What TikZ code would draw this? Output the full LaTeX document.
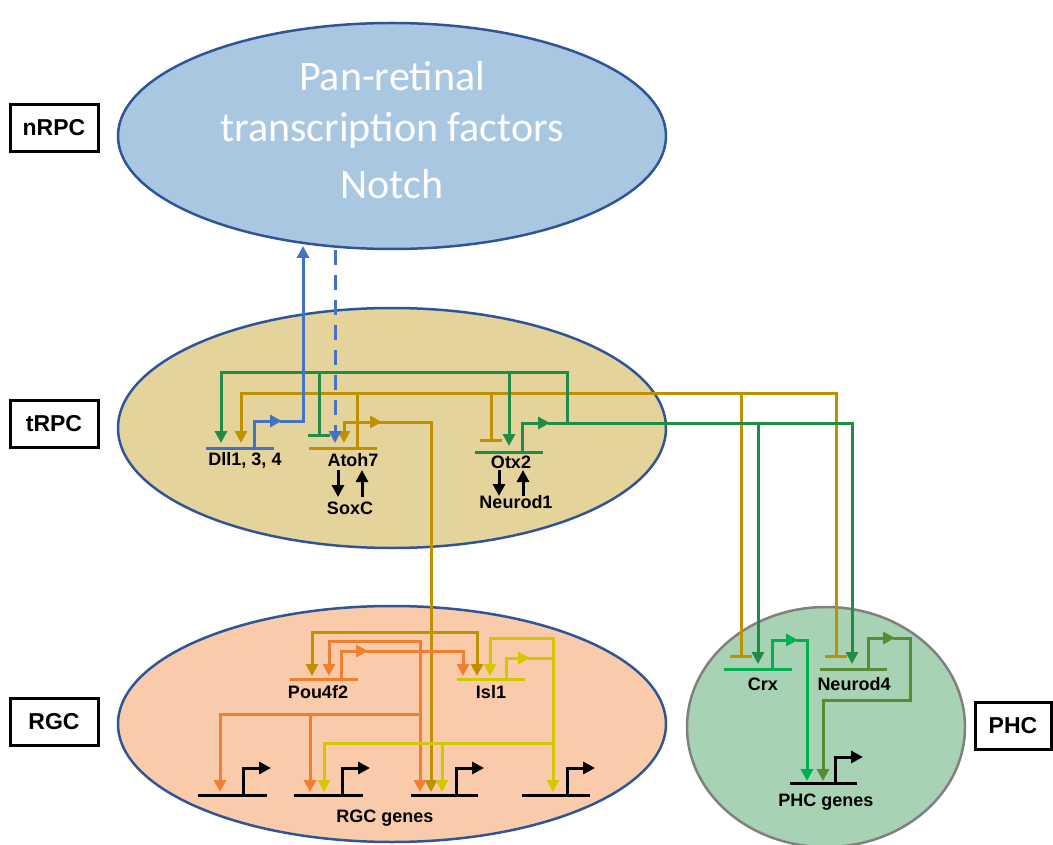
\documentclass[tikz,border=0pt]{standalone}
\usepackage{fontspec}
\setmainfont{Liberation Sans}
\newfontfamily\calfont{Carlito}
\usetikzlibrary{arrows.meta,shapes.geometric}
\definecolor{nfill}{RGB}{170,199,226}
\definecolor{tfill}{RGB}{229,211,156}
\definecolor{rfill}{RGB}{250,203,170}
\definecolor{pfill}{RGB}{168,210,180}
\definecolor{edgeblue}{RGB}{47,85,151}
\definecolor{pedge}{RGB}{128,128,128}
\definecolor{cblue}{RGB}{68,114,196}
\definecolor{cgreen}{RGB}{34,139,69}
\definecolor{cgold}{RGB}{191,144,0}
\definecolor{corange}{RGB}{240,128,48}
\definecolor{cyellow}{RGB}{210,200,0}
\definecolor{ccrx}{RGB}{0,176,80}
\definecolor{cnd4}{RGB}{90,138,52}
\begin{document}
\begin{tikzpicture}[x=1pt,y=-1pt,
  wire/.style={line width=3pt},
  arr/.style={wire,-{Triangle[width=12pt,length=12pt]}},
  tee/.style={wire,-{Bar[width=22pt]}},
  lab/.style={font=\fontsize{18}{20}\selectfont\bfseries,inner sep=0pt},
  box/.style={draw,line width=3pt,font=\fontsize{23}{25}\selectfont\bfseries,minimum width=88pt,minimum height=47pt,inner sep=0pt},
  cell/.style={ellipse,line width=2.5pt,inner sep=0pt},
  big/.style={text=white,font=\calfont\fontsize{42}{48}\selectfont,inner sep=0pt},
  bar/.style={line width=3pt}]
\useasboundingbox (0,0) rectangle (1053,845);
% cells
\node[cell,draw=edgeblue,fill=nfill,minimum width=548pt,minimum height=226pt] (nrpc) at (392,136) {};
\node[cell,draw=edgeblue,fill=tfill,minimum width=548pt,minimum height=240pt] (trpc) at (392,428) {};
\node[cell,draw=edgeblue,fill=rfill,minimum width=548pt,minimum height=236pt] (rgc) at (392,724) {};
\node[cell,draw=pedge,fill=pfill,minimum width=278pt,minimum height=240pt] (phc) at (826,727) {};
\node[big] (t1) at (392,76) {Pan-retinal};
\node[big] (t2) at (392,130) {transcription factors};
\node[big] (t3) at (392,184) {Notch};
% boxes
\node[box] (bn) at (54,128) {nRPC};
\node[box] (bt) at (54,424) {tRPC};
\node[box] (br) at (54,722) {RGC};
\node[box,minimum width=76pt] (bp) at (1013,726) {PHC};

% ---- tRPC gene bars
\draw[bar,cblue] (206,448) -- (274,448);
\draw[bar,cgold] (309,448) -- (377,448);
\draw[bar,cgreen] (475,452) -- (543,452);
\node[lab] (dll) at (245,460) {Dll1, 3, 4};
\node[lab] (atoh) at (353,460) {Atoh7};
\node[lab] (soxc) at (350,508) {SoxC};
\node[lab] (otx) at (511,462) {Otx2};
\node[lab] (nd1) at (516,502) {Neurod1};
\draw[arr,black] (338,470) -- (338,497);
\draw[arr,black] (362,497) -- (362,470);
\draw[arr,black] (499,470) -- (499,496);
\draw[arr,black] (523,496) -- (523,470);

% gold (Atoh7) network
\draw[arr,cgold] (357,393) -- (241,393) -- (241,443);
\draw[wire,cgold] (357,448) -- (357,393) -- (836,393);
\draw[tee,cgold] (491,393) -- (491,442);
\draw[tee,cgold] (741,393) -- (741,658);
\draw[tee,cgold] (836,391.5) -- (836,658);
\draw[arr,cgold] (382,422) -- (344,422) -- (344,443);
\draw[arr,cgold] (362,422) -- (382,422);
\draw[wire,cgold] (380,422) -- (431,422) -- (431,632);
\draw[arr,cgold] (431,632) -- (431,792);
\draw[arr,cgold] (431,632) -| (312,676);
\draw[arr,cgold] (431,632) -| (477,676);

% green (Otx2) network
\draw[arr,cgreen] (567,423) -- (567,372) -- (221,372) -- (221,443);
\draw[tee,cgreen] (319,372) -- (319,437);
\draw[arr,cgreen] (509,372) -- (509,446);
\draw[arr,cgreen] (522,452) |- (550,423);
\draw[wire,cgreen] (548,423) -- (852,423);
\draw[arr,cgreen] (852,421.5) -- (852,664);
\draw[arr,cgreen] (758,423) -- (758,664);

% blue (Dll) network
\draw[arr,cblue] (254,448) |- (282,421);
\draw[arr,cblue] (280,421) -- (303,421) -- (303,246);
\draw[arr,cblue,dash pattern=on 15pt off 10pt] (335,250) -- (335,443);

% ---- RGC
\draw[bar,corange] (290,679) -- (358,679);
\draw[bar,cyellow] (457,679) -- (525,679);
\node[lab] (pou) at (318,692) {Pou4f2};
\node[lab] (isl) at (491,692) {Isl1};
% orange
\draw[arr,corange] (341,679) |- (368,651);
\draw[arr,corange] (366,651) -- (463,651) -- (463,676);
\draw[arr,corange] (420,714) -- (420,641) -- (329,641) -- (329,676);
\draw[arr,corange] (420,714) -- (420,792);
\draw[arr,corange] (420,714) -| (220,792);
\draw[arr,corange] (310,714) -- (310,792);
% yellow
\draw[arr,cyellow] (506,679) |- (530,658);
\draw[wire,cyellow] (528,658) -- (553,658);
\draw[arr,cyellow] (553,743) -- (553,638) -- (490,638) -- (490,676);
\draw[arr,cyellow] (553,743) -- (553,792);
\draw[arr,cyellow] (553,743) -| (324,792);
\draw[arr,cyellow] (442,743) -- (442,792);
% genes
\foreach \a/\b/\p in {198/267/243, 294/363/342, 411/478/456, 522/590/567}{
  \draw[bar,black] (\a,795) -- (\b,795);
  \draw[arr,black] (\p,795) |- (\p+28,768);
}
\node[lab] (rgcg) at (385,818) {RGC genes};

% ---- PHC
\draw[bar,ccrx] (724,669) -- (792,669);
\draw[bar,cnd4] (820,669) -- (887,669);
\node[lab] (crx) at (763,684) {Crx};
\node[lab] (nd4) at (854,684) {Neurod4};
\draw[arr,ccrx] (772,669) |- (798,640);
\draw[arr,ccrx] (796,640) -- (807,640) -- (807,781);
\draw[arr,cnd4] (868,669) |- (895,638);
\draw[arr,cnd4] (893,638) -- (910,638) -- (910,700) -- (823,700) -- (823,781);
\draw[bar,black] (790,783) -- (857,783);
\draw[arr,black] (835,783) |- (863,757);
\node[lab] (phcg) at (826,802) {PHC genes};
\end{tikzpicture}
\end{document}
